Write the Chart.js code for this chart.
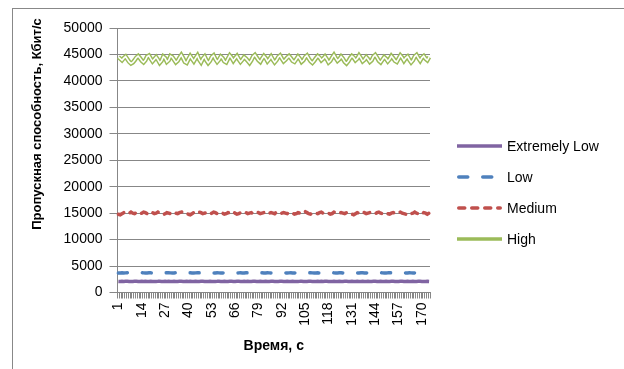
<!DOCTYPE html>
<html>
<head>
<meta charset="utf-8">
<script src="https://cdn.jsdelivr.net/npm/chart.js@4.4.0/dist/chart.umd.min.js"></script>
<style>
  html, body { margin: 0; padding: 0; background: #fff; }
  #wrap { position: relative; width: 624px; height: 369px; overflow: hidden; }
  #frame { position: absolute; left: 12px; top: 8px; width: 700px; height: 500px;
           border: 1px solid #888; box-sizing: border-box; }
  canvas { position: absolute; left: 0; top: 0; }
</style>
</head>
<body>
<div id="wrap">
  <div id="frame"></div>
  <canvas id="c" width="624" height="369"></canvas>
</div>
<script>
// Time axis: one category per second, 1..174
const timeLabels = Array.from({ length: 174 }, (_, i) => String(i + 1));
// Category labels actually printed under the axis
const shownTimeLabels = ['1', '14', '27', '40', '53', '66', '79', '92', '105', '118', '131', '144', '157', '170'];
// Throughput axis ticks, Kbit/s
const yTickValues = [0, 5000, 10000, 15000, 20000, 25000, 30000, 35000, 40000, 45000, 50000];
const yAxisTitle = 'Пропускная способность, Кбит/с';
const xAxisTitle = 'Время, с';

// Throughput per quality profile, Kbit/s
const extremelyLow = [
  2100, 2080, 2120, 2090, 2110, 2130, 2090, 2070, 2100, 2120,
  2110, 2080, 2100, 2130, 2090, 2110, 2080, 2100, 2120, 2090,
  2070, 2100, 2110, 2130, 2100, 2080, 2110, 2090, 2120, 2100,
  2080, 2110, 2100, 2090, 2130, 2110, 2080, 2100, 2120, 2090,
  2110, 2100, 2080, 2120, 2100, 2090, 2110, 2130, 2100, 2080,
  2100, 2120, 2090, 2070, 2100, 2110, 2130, 2100, 2090, 2110,
  2080, 2100, 2120, 2110, 2090, 2100, 2130, 2110, 2080, 2100,
  2120, 2090, 2110, 2100, 2080, 2110, 2120, 2100, 2090, 2130,
  2100, 2080, 2110, 2090, 2100, 2120, 2110, 2080, 2100, 2090,
  2110, 2130, 2100, 2080, 2120, 2100, 2090, 2110, 2100, 2080,
  2100, 2110, 2130, 2090, 2100, 2080, 2120, 2110, 2090, 2100,
  2080, 2110, 2100, 2120, 2090, 2110, 2130, 2100, 2080, 2100,
  2120, 2090, 2100, 2110, 2080, 2100, 2120, 2110, 2090, 2100,
  2130, 2100, 2080, 2110, 2090, 2100, 2120, 2100, 2080, 2110,
  2100, 2090, 2120, 2110, 2080, 2100, 2130, 2100, 2090, 2110,
  2080, 2100, 2110, 2120, 2090, 2100, 2080, 2110, 2120, 2100,
  2090, 2110, 2100, 2080, 2120, 2100, 2090, 2110, 2130, 2100,
  2080, 2100, 2110, 2090
];
const low = [
  3680, 3700, 3720, 3690, 3710, 3740, 3700, 3680, 3710, 3730,
  3700, 3690, 3720, 3750, 3710, 3680, 3700, 3730, 3720, 3690,
  3710, 3740, 3700, 3680, 3720, 3700, 3690, 3730, 3750, 3710,
  3690, 3700, 3720, 3740, 3700, 3680, 3710, 3730, 3700, 3690,
  3720, 3700, 3680, 3710, 3740, 3720, 3690, 3700, 3730, 3710,
  3680, 3700, 3720, 3700, 3690, 3740, 3710, 3680, 3700, 3720,
  3750, 3710, 3690, 3700, 3730, 3700, 3680, 3710, 3720, 3690,
  3700, 3740, 3710, 3680, 3700, 3720, 3730, 3700, 3690, 3710,
  3740, 3700, 3680, 3720, 3710, 3690, 3700, 3730, 3750, 3710,
  3690, 3700, 3720, 3700, 3680, 3710, 3740, 3700, 3690, 3720,
  3710, 3680, 3700, 3730, 3720, 3690, 3700, 3740, 3710, 3680,
  3700, 3720, 3700, 3690, 3730, 3710, 3680, 3700, 3720, 3750,
  3710, 3690, 3700, 3720, 3740, 3700, 3680, 3710, 3730, 3700,
  3690, 3720, 3710, 3680, 3700, 3740, 3720, 3690, 3700, 3730,
  3710, 3680, 3700, 3720, 3700, 3690, 3740, 3710, 3680, 3700,
  3720, 3750, 3710, 3690, 3700, 3730, 3700, 3680, 3710, 3720,
  3690, 3700, 3740, 3710, 3680, 3700, 3720, 3700, 3690, 3730,
  3710, 3700, 3720, 3690
];
const medium = [
  14800, 14700, 14900, 15100, 14900, 14800, 15000, 15200, 15000, 14900,
  15100, 14900, 14800, 15000, 15200, 15100, 14900, 15000, 15300, 15100,
  14900, 15000, 15200, 15000, 14800, 14700, 14900, 15100, 15000, 14900,
  15100, 15200, 15000, 14900, 15100, 15200, 15300, 15100, 14900, 14800,
  14700, 14900, 15100, 15000, 14900, 15200, 15100, 14900, 15000, 15100,
  14900, 14800, 15000, 15200, 15100, 14900, 15000, 15200, 15000, 14800,
  14900, 15100, 15000, 14900, 15200, 15000, 14800, 14900, 15100, 15000,
  15200, 15100, 14900, 15000, 15100, 14900, 15000, 15200, 15100, 14900,
  15000, 15100, 14900, 14800, 15000, 15100, 15000, 14900, 15200, 15100,
  14900, 15000, 15100, 15000, 14900, 15100, 15200, 15000, 14800, 14900,
  15100, 15000, 14900, 15000, 15300, 15100, 14900, 14800, 15000, 15100,
  15000, 14900, 15100, 15200, 15000, 14900, 15100, 15000, 14800, 14900,
  15200, 15100, 14900, 15000, 15100, 15000, 14900, 15100, 15200, 15000,
  14800, 14700, 14900, 15100, 15000, 14900, 15200, 15100, 14900, 15000,
  15100, 15000, 14800, 14900, 15100, 15200, 15000, 14900, 15000, 15100,
  14900, 14800, 15000, 15100, 15000, 14900, 15100, 15200, 15000, 14900,
  14800, 15000, 15100, 14900, 15000, 15200, 15000, 14900, 14700, 14900,
  15100, 15000, 14800, 15000
];
const high = [
  44500, 44200, 43900, 44300, 44600, 44100, 43600, 43300, 43500, 43900,
  44400, 44700, 44300, 43800, 43500, 43900, 44600, 44800, 44200, 43700,
  44100, 44500, 44000, 43400, 43800, 44600, 44300, 43600, 43900, 44700,
  44500, 44000, 43500, 43800, 44400, 44900, 44300, 43600, 43400, 44100,
  44700, 44200, 43700, 44300, 44800, 44000, 43500, 44200, 44600, 43900,
  43400, 43800, 44500, 44800, 44100, 43600, 44000, 44600, 44300, 43700,
  43500, 44200, 44800, 44400, 43800, 44300, 44700, 44100, 43600, 44000,
  44500, 44200, 43800, 43400, 43900, 44600, 44900, 44400, 43900, 43600,
  44200, 44700, 44300, 43700, 44100, 44600, 44000, 43500, 43900, 44500,
  44800, 44200, 43700, 44000, 44400, 44700, 44300, 43800, 43600, 44100,
  44600, 44200, 43600, 43900, 44500, 44800, 44200, 43700, 43400, 43800,
  44300, 44700, 44400, 43900, 44200, 44600, 44100, 43500, 43800, 44400,
  44900, 44300, 43800, 44100, 44600, 44200, 43600, 43300, 43700, 44300,
  44700, 44400, 43900, 44200, 44800, 44300, 43700, 44000, 44500, 44100,
  43600, 43900, 44600, 44900, 44400, 43800, 43500, 44000, 44500, 44200,
  43700, 44100, 44700, 44300, 43800, 43600, 44200, 44800, 44400, 43800,
  44300, 44600, 44000, 43500, 43900, 44600, 44900, 44300, 43800, 44400,
  44700, 44200, 43900, 44500
];

const FONT = "'Liberation Sans', Arial, sans-serif";
const GRID = '#878787';

// Legend to the right of the plot: a line sample followed by the series name
const sideLegend = {
  id: 'sideLegend',
  afterDraw(chart, args, opts) {
    const ctx = chart.ctx;
    const items = chart.data.datasets.filter(d => d.legendWidth);
    items.forEach((d, i) => {
      const y = opts.top + i * opts.spacing;
      ctx.save();
      ctx.strokeStyle = d.borderColor;
      ctx.lineWidth = d.legendWidth;
      ctx.setLineDash(d.borderDash || []);
      ctx.lineCap = d.borderCapStyle || 'butt';
      const inset = ctx.lineCap === 'round' ? d.legendWidth / 2 : 0;
      ctx.beginPath();
      ctx.moveTo(opts.x0 + inset, y);
      ctx.lineTo(opts.x1 - inset, y);
      ctx.stroke();
      ctx.restore();
      ctx.save();
      ctx.fillStyle = '#000';
      ctx.font = '14px ' + FONT;
      ctx.textBaseline = 'middle';
      ctx.textAlign = 'left';
      ctx.fillText(d.label, opts.textX, y + 1);
      ctx.restore();
    });
  }
};

// Vertical axis title, set a little above the plot's vertical centre
const yTitle = {
  id: 'yTitle',
  afterDraw(chart, args, opts) {
    const ctx = chart.ctx;
    ctx.save();
    ctx.translate(opts.x, opts.y);
    ctx.rotate(-Math.PI / 2);
    ctx.fillStyle = '#000';
    ctx.font = 'bold 13px ' + FONT;
    ctx.textAlign = 'center';
    ctx.textBaseline = 'middle';
    ctx.fillText(opts.text, 0, 0);
    ctx.restore();
  }
};

new Chart(document.getElementById('c'), {
  type: 'line',
  data: {
    labels: timeLabels,
    datasets: [
      { label: 'Extremely Low', data: extremelyLow, borderColor: '#8064A2', borderWidth: 3.5,
        legendWidth: 3.5, order: 1 },
      { label: 'Low', data: low, borderColor: '#4F81BD', borderWidth: 3.5,
        borderDash: [9, 15], borderCapStyle: 'round', legendWidth: 3.5, order: 1 },
      { label: 'Medium', data: medium, borderColor: '#C0504D', borderWidth: 3.5,
        borderDash: [6, 7], borderCapStyle: 'round', legendWidth: 3.5, order: 1 },
      { label: 'High', data: high, borderColor: '#9BBB59', borderWidth: 4.5,
        legendWidth: 3.5, order: 1 },
      // white core line turns the green stroke into a double line
      { label: 'High core', data: high, borderColor: '#FFFFFF', borderWidth: 1.6, order: 0 }
    ]
  },
  options: {
    responsive: false,
    animation: false,
    devicePixelRatio: 1,
    layout: { padding: { left: 14, top: 28, right: 194, bottom: 10 } },
    elements: { point: { radius: 0 }, line: { tension: 0 } },
    plugins: {
      legend: { display: false },
      tooltip: { enabled: false },
      sideLegend: { x0: 457, x1: 502, textX: 507, top: 146, spacing: 31 },
      yTitle: { text: yAxisTitle, x: 37, y: 124 }
    },
    scales: {
      x: {
        type: 'category',
        offset: true,
        grid: { display: true, drawOnChartArea: false, drawTicks: true, tickLength: 6,
                offset: true, color: GRID, tickColor: GRID },
        border: { display: true, color: GRID, width: 1 },
        ticks: {
          autoSkip: false, maxRotation: 90, minRotation: 90, padding: 4, color: '#000',
          font: { family: FONT, size: 14 },
          callback(v) {
            const l = this.getLabelForValue(v);
            return shownTimeLabels.includes(l) ? l : '';
          }
        },
        title: { display: true, text: xAxisTitle, color: '#000',
                 font: { family: FONT, size: 14, weight: 'bold' }, padding: { top: 0, bottom: 4 } },
        afterFit(s) { s.height = 66.5; }
      },
      y: {
        min: 0, max: 50000,
        afterBuildTicks(s) { s.ticks = yTickValues.map(v => ({ value: v })); },
        grid: { color: GRID, tickLength: 8, tickColor: GRID },
        border: { color: GRID },
        ticks: { padding: 7, color: '#000', font: { family: FONT, size: 14 }, callback: v => String(v) },
        title: { display: false },
        afterFit(s) { s.width = 103.5; }
      }
    }
  },
  plugins: [sideLegend, yTitle]
});
</script>
</body>
</html>
